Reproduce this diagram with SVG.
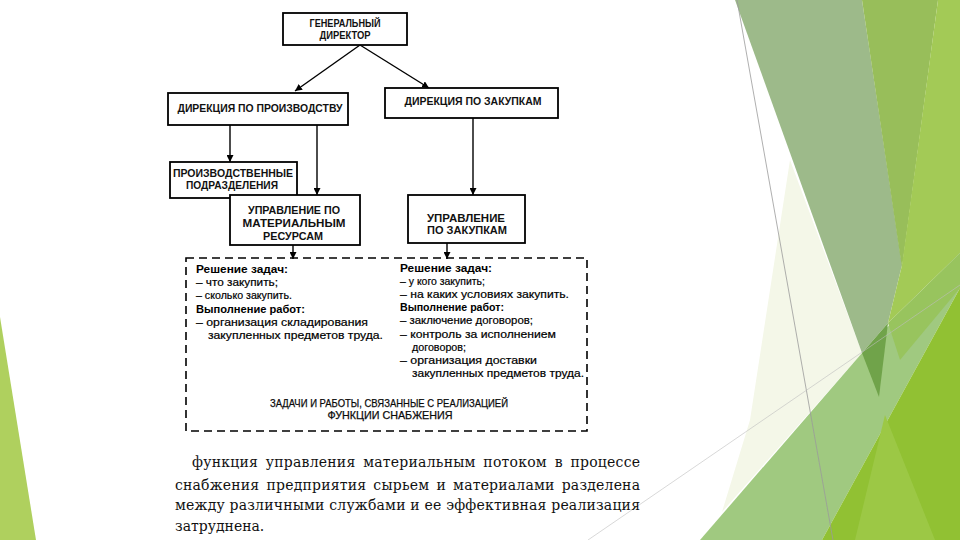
<svg xmlns="http://www.w3.org/2000/svg" width="960" height="540" viewBox="0 0 960 540">
<defs>
<marker id="ah" viewBox="0 0 10 10" refX="10" refY="5" markerWidth="7" markerHeight="7" markerUnits="userSpaceOnUse" orient="auto">
<path d="M0,0 L10,5 L0,10 z" fill="#000"/>
</marker>
<style>
.box{fill:#fff;stroke:#000;stroke-width:1.8}
.bt{font-family:"Liberation Sans",Arial,sans-serif;font-size:10.5px;font-weight:bold;fill:#111;text-anchor:middle}
.lt{font-family:"Liberation Sans",Arial,sans-serif;font-size:11px;fill:#000;stroke:#000;stroke-width:0.2}
.lh{font-family:"Liberation Sans",Arial,sans-serif;font-size:11px;font-weight:bold;fill:#000}
.con{stroke:#000;stroke-width:1.4;fill:none;marker-end:url(#ah)}
.para{font-family:"DejaVu Serif","Liberation Serif",serif;font-size:14px;fill:#111}
</style>
</defs>
<rect width="960" height="540" fill="#fff"/>
<g id="decor">
<polygon points="0,317 36,540 0,540" fill="#afd05e"/>
<polygon points="790,160 862,353 722,512 750,420" fill="#f4f7e8"/>
<polygon points="735,0 862,0 902,265 888,323 862,353" fill="#9dba8a"/>
<polygon points="862,0 938,0 902,268" fill="#98be5a"/>
<polygon points="938,0 960,0 960,253 888,323 902,265" fill="#a3ca56"/>
<polygon points="700,540 862,353 960,253 960,288 822,540" fill="#a0c980"/>
<polygon points="888,323 960,253 960,288 900,360" fill="#98c45e"/>
<polygon points="822,540 960,288 960,540" fill="#91c133"/>
<polygon points="855,540 885,415 935,540" fill="#9cc845"/>
<polygon points="862,353 888,323 879,397" fill="#70a34a"/>
<line x1="737" y1="0" x2="833" y2="540" stroke="#9a9a9a" stroke-width="0.8"/>
<line x1="588" y1="540" x2="960" y2="285" stroke="#bdbdbd" stroke-width="0.6"/>
</g>
<g id="connectors">
<line class="con" x1="360" y1="45" x2="295" y2="91"/>
<line class="con" x1="360" y1="45" x2="429" y2="88"/>
<line class="con" x1="230" y1="125" x2="230" y2="162"/>
<line class="con" x1="317" y1="125" x2="317" y2="195"/>
<line class="con" x1="473" y1="118" x2="473" y2="195"/>
<line class="con" x1="293" y1="245" x2="293" y2="259"/>
<line class="con" x1="447" y1="243" x2="447" y2="259"/>
</g>
<g id="gendir">
<rect class="box" x="283" y="13" width="124" height="32"/>
<text class="bt" x="345" y="27" textLength="71" lengthAdjust="spacingAndGlyphs">ГЕНЕРАЛЬНЫЙ</text>
<text class="bt" x="345" y="39" textLength="51" lengthAdjust="spacingAndGlyphs">ДИРЕКТОР</text>
</g>
<g id="dir-prod">
<rect class="box" x="168" y="93" width="180" height="32"/>
<text class="bt" x="260" y="112" textLength="165" lengthAdjust="spacingAndGlyphs">ДИРЕКЦИЯ ПО ПРОИЗВОДСТВУ</text>
</g>
<g id="dir-zak">
<rect class="box" x="385" y="88" width="173" height="30"/>
<text class="bt" x="473" y="105" textLength="137" lengthAdjust="spacingAndGlyphs">ДИРЕКЦИЯ ПО ЗАКУПКАМ</text>
</g>
<g id="proizv">
<rect class="box" x="170" y="162" width="127" height="36"/>
<text class="bt" x="233" y="177" textLength="120" lengthAdjust="spacingAndGlyphs">ПРОИЗВОДСТВЕННЫЕ</text>
<text class="bt" x="232" y="189" textLength="92" lengthAdjust="spacingAndGlyphs">ПОДРАЗДЕЛЕНИЯ</text>
</g>
<g id="upr-mat">
<rect class="box" x="230" y="195" width="130" height="50"/>
<text class="bt" x="294" y="214" textLength="92" lengthAdjust="spacingAndGlyphs">УПРАВЛЕНИЕ ПО</text>
<text class="bt" x="294" y="227" textLength="103" lengthAdjust="spacingAndGlyphs">МАТЕРИАЛЬНЫМ</text>
<text class="bt" x="293" y="240" textLength="60" lengthAdjust="spacingAndGlyphs">РЕСУРСАМ</text>
</g>
<g id="upr-zak">
<rect class="box" x="408" y="195" width="117" height="48"/>
<text class="bt" x="466" y="222" textLength="78" lengthAdjust="spacingAndGlyphs">УПРАВЛЕНИЕ</text>
<text class="bt" x="467" y="234" textLength="80" lengthAdjust="spacingAndGlyphs">ПО ЗАКУПКАМ</text>
</g>
<g id="tasks">
<rect x="186" y="258" width="401" height="173" fill="none" stroke="#000" stroke-width="1.6" stroke-dasharray="8,5"/>
<text class="lh" x="196" y="273" textLength="92" lengthAdjust="spacingAndGlyphs">Решение задач:</text>
<text class="lt" x="196" y="286" textLength="82" lengthAdjust="spacingAndGlyphs">– что закупить;</text>
<text class="lt" x="196" y="299" textLength="96" lengthAdjust="spacingAndGlyphs">– сколько закупить.</text>
<text class="lh" x="196" y="313" textLength="109" lengthAdjust="spacingAndGlyphs">Выполнение работ:</text>
<text class="lt" x="196" y="326" textLength="172" lengthAdjust="spacingAndGlyphs">– организация складирования</text>
<text class="lt" x="208" y="339" textLength="175" lengthAdjust="spacingAndGlyphs">закупленных предметов труда.</text>
<text class="lh" x="400" y="272" textLength="92" lengthAdjust="spacingAndGlyphs">Решение задач:</text>
<text class="lt" x="400" y="285" textLength="85" lengthAdjust="spacingAndGlyphs">– у кого закупить;</text>
<text class="lt" x="400" y="298" textLength="169" lengthAdjust="spacingAndGlyphs">– на каких условиях закупить.</text>
<text class="lh" x="400" y="311" textLength="104" lengthAdjust="spacingAndGlyphs">Выполнение работ:</text>
<text class="lt" x="400" y="324" textLength="133" lengthAdjust="spacingAndGlyphs">– заключение договоров;</text>
<text class="lt" x="400" y="338" textLength="156" lengthAdjust="spacingAndGlyphs">– контроль за исполнением</text>
<text class="lt" x="412" y="351" textLength="54" lengthAdjust="spacingAndGlyphs">договоров;</text>
<text class="lt" x="400" y="364" textLength="137" lengthAdjust="spacingAndGlyphs">– организация доставки</text>
<text class="lt" x="412" y="377" textLength="172" lengthAdjust="spacingAndGlyphs">закупленных предметов труда.</text>
<text class="bt" x="389" y="407" textLength="238" lengthAdjust="spacingAndGlyphs" style="font-weight:normal;stroke:#000;stroke-width:0.25">ЗАДАЧИ И РАБОТЫ, СВЯЗАННЫЕ С РЕАЛИЗАЦИЕЙ</text>
<text class="bt" x="390" y="419" textLength="125" lengthAdjust="spacingAndGlyphs" style="font-weight:normal;stroke:#000;stroke-width:0.25">ФУНКЦИИ СНАБЖЕНИЯ</text>
</g>
<g id="paragraph">
<text class="para" x="192" y="467" word-spacing="3" textLength="448" lengthAdjust="spacing">функция управления материальным потоком в процессе</text>
<text class="para" x="175" y="490" word-spacing="2.5" textLength="465" lengthAdjust="spacing">снабжения предприятия сырьем и материалами разделена</text>
<text class="para" x="175" y="510" textLength="465" lengthAdjust="spacing">между различными службами и ее эффективная реализация</text>
<text class="para" x="175" y="531">затруднена.</text>
</g>
</svg>
